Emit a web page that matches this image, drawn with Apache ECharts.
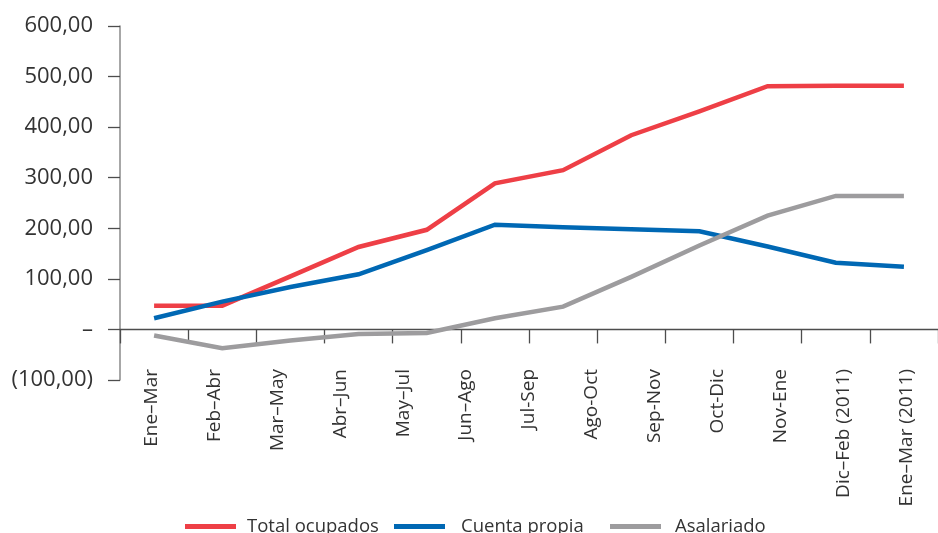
<!DOCTYPE html>
<html>
<head>
<meta charset="utf-8">
<script src="https://cdn.jsdelivr.net/npm/echarts@6/dist/echarts.min.js"></script>
<style>
  html, body { margin: 0; padding: 0; background: #ffffff; }
  #chart { width: 938px; height: 533px; }
</style>
</head>
<body>
<div id="chart"></div>
<script>
// Moving-quarter periods shown along the horizontal axis
const periods = ['Ene–Mar', 'Feb–Abr', 'Mar–May', 'Abr–Jun', 'May–Jul', 'Jun–Ago',
  'Jul-Sep', 'Ago-Oct', 'Sep-Nov', 'Oct-Dic', 'Nov-Ene', 'Dic–Feb (2011)', 'Ene–Mar (2011)'];

// Series values (thousands)
const totalOcupados = [47, 47, 105, 163, 197, 289, 315, 384, 431, 481, 482, 482];
const cuentaPropia  = [22, 55, 84, 109, 157, 207, 202, 198, 194, 164, 132, 124];
const asalariado    = [-12, -37, -22, -9, -7, 22, 45, 104, 166, 225, 264, 264];

const seriesNames = ['Total ocupados', 'Cuenta propia', 'Asalariado'];
const seriesColors = ['#EE3F46', '#0068B4', '#9D9C9E'];

// Value axis range
const yMin = -100;
const yMax = 600;
const yStep = 100;

function formatValue(v) {
  if (v === 0) return '–';
  const s = Math.abs(v).toFixed(2).replace('.', ',');
  return v < 0 ? '(' + s + ')' : s;
}

const FONT = '"Open Sans", "Noto Sans", sans-serif';
const chart = echarts.init(document.getElementById('chart'), null, { renderer: 'canvas' });

const pointCategories = periods.slice(0, totalOcupados.length);
const valuesBySeries = [totalOcupados, cuentaPropia, asalariado];

// one legend block per series so each key sits at its own spot
const legendLefts = [185, 394, 610];
const legendTextGaps = [6, 11, 9];
const legends = seriesNames.map((name, i) => ({
  data: [name],
  left: legendLefts[i],
  top: 517,
  padding: 0,
  icon: 'rect',
  itemWidth: 51,
  itemHeight: 5,
  textStyle: { fontFamily: FONT, fontSize: 18.5, color: '#333333', padding: [0, 0, 0, legendTextGaps[i]] }
}));

chart.setOption({
  animation: false,
  backgroundColor: '#ffffff',
  textStyle: { fontFamily: FONT },
  grid: { left: 120, top: 26, width: 825, height: 354, containLabel: false },
  legend: legends,
  xAxis: [
    {
      // period labels
      type: 'category',
      position: 'bottom',
      offset: -25,
      data: periods,
      boundaryGap: true,
      axisLine: { show: false, onZero: false },
      axisTick: { show: false },
      axisLabel: {
        rotate: 90,
        margin: 14,
        fontFamily: FONT,
        fontSize: 19,
        color: '#333333',
        interval: 0
      },
      splitLine: { show: false }
    },
    {
      // axis carrying the plotted points
      type: 'category',
      position: 'bottom',
      data: pointCategories,
      boundaryGap: true,
      axisLine: { show: true, onZero: true, onZeroAxisIndex: 0, lineStyle: { color: '#4d4d4d', width: 1.3 } },
      axisTick: { show: true, length: 14, inside: false, interval: 0, lineStyle: { color: '#4d4d4d', width: 1.3 } },
      axisLabel: { show: false },
      splitLine: { show: false }
    }
  ],
  yAxis: {
    type: 'value',
    min: yMin,
    max: yMax,
    interval: yStep,
    axisLine: { show: true, onZero: false, lineStyle: { color: '#8a8a8a', width: 1.5 } },
    axisTick: { show: true, length: 12, lineStyle: { color: '#4d4d4d', width: 1.3 } },
    axisLabel: {
      margin: 27,
      fontFamily: FONT,
      fontSize: 22,
      color: '#333333',
      formatter: formatValue
    },
    splitLine: { show: false }
  },
  series: seriesNames.map((name, i) => ({
    name: name,
    type: 'line',
    xAxisIndex: 1,
    yAxisIndex: 0,
    data: valuesBySeries[i],
    symbol: 'none',
    showSymbol: false,
    smooth: false,
    color: seriesColors[i],
    lineStyle: { color: seriesColors[i], width: 4.5, cap: 'butt', join: 'miter' },
    itemStyle: { color: seriesColors[i] }
  }))
});
</script>
</body>
</html>
